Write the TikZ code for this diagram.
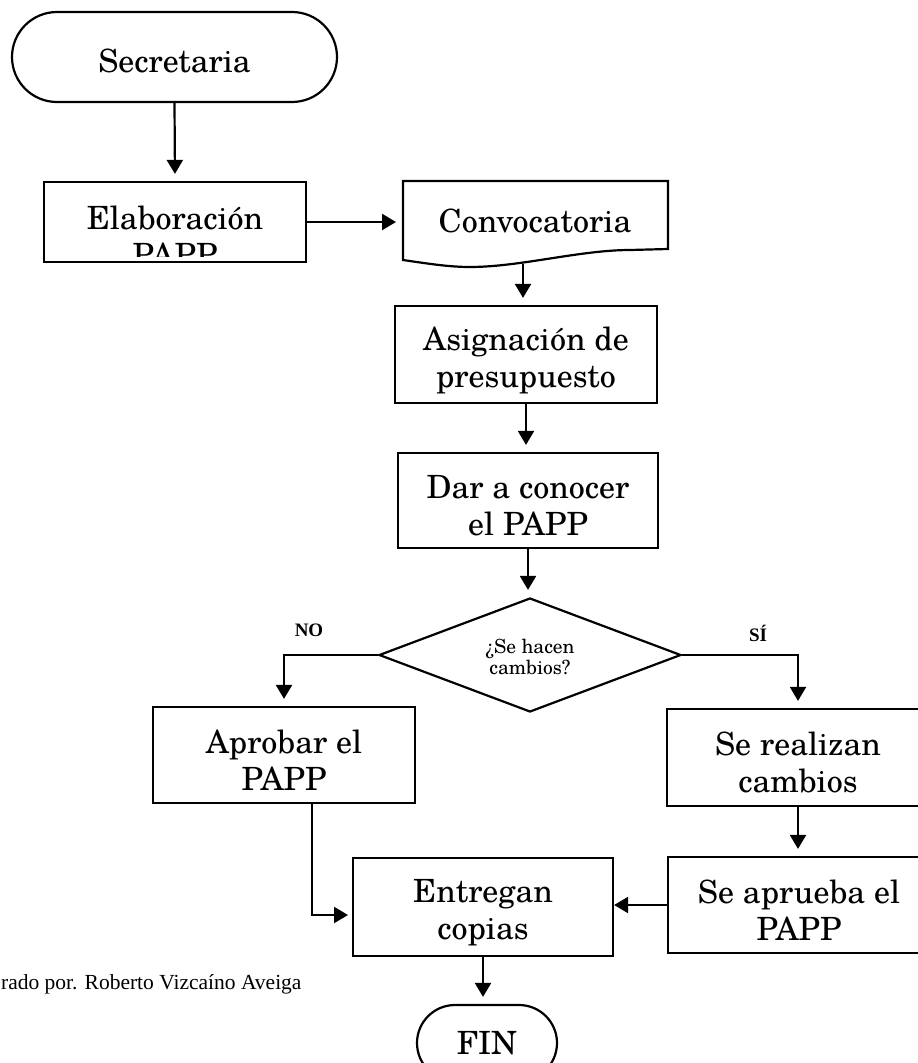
\documentclass[tikz,border=0pt]{standalone}
\usepackage{fontspec}
\setmainfont{TeX Gyre Schola}
\newfontfamily\timesf{Liberation Serif}
\usetikzlibrary{arrows.meta,shapes.geometric}
\begin{document}
\begin{tikzpicture}[x=1pt,y=-1pt,line width=2.2pt,
  bigtext/.style={font=\fontsize{32}{37}\selectfont},
  box/.style={draw, rectangle, minimum width=262pt, minimum height=97pt, inner sep=0pt},
  txt/.style={align=center, inner sep=0pt, bigtext},
  term/.style={draw, rectangle, inner sep=0pt, bigtext},
  arr/.style={-{Triangle[length=14pt,width=16pt]}, line width=2.2pt, shorten >=7pt},
  lbl/.style={font=\timesf\bfseries\fontsize{19}{21}\selectfont, inner sep=0pt}]
\useasboundingbox (0,0) rectangle (918,1063);
\clip (0,0) rectangle (918,1063);

% Start terminal
\node[term, rounded corners=45pt, minimum width=325pt, minimum height=90pt] (sec) at (174.5,57) {};
\node[txt] (secT) at (174.5,61) {Secretaria};

% Elaboracion box (text clipped)
\begin{scope}
  \clip (44,182) rectangle (306,256);
  \node[txt] (elabT) at (175,236) {Elaboración\\PAPP};
\end{scope}
\node[draw, rectangle, minimum width=262pt, minimum height=80pt, inner sep=0pt] (elab) at (175,222) {};

% Convocatoria document
\draw (403,181) -- (668,181) -- (668,249) -- (630,250)
  .. controls (580,250) and (520,267) .. (470,267)
  .. controls (450,267) and (430,264) .. (403,260) -- cycle;
\node[txt] (conv) at (535,221) {Convocatoria};
\coordinate (convW) at (403,222);
\coordinate (convS) at (523,264);

\node[box] (asig) at (526,354.5) {};
\node[txt] (asigT) at ([yshift=-6pt]asig.center) {Asignación de\\presupuesto};
\node[box, minimum width=260pt, minimum height=95pt] (dar) at (528,500.5) {};
\node[txt] (darT) at ([yshift=-5pt]dar.center) {Dar a conocer\\el PAPP};

\node[diamond, draw, minimum width=302pt, minimum height=114pt, inner sep=0pt, aspect=2.65] (dec) at (530,655) {};
\node[align=center, inner sep=0pt, font=\fontsize{19.5}{21}\selectfont] (decT) at (530,657) {¿Se hacen\\cambios?};

\node[lbl] (no) at (309,630) {NO};
\node[lbl] (si) at (758,633) {SÍ};

\node[box, minimum height=96pt] (aprob) at (284,755) {};
\node[txt] (aprobT) at ([yshift=-5pt]aprob.center) {Aprobar el\\PAPP};
\node[box] (real) at (798,757.5) {};
\node[txt] (realT) at ([yshift=-5pt]real.center) {Se realizan\\cambios};
\node[box, minimum height=96pt] (apr) at (799,905) {};
\node[txt] (aprT) at ([yshift=-5pt]apr.center) {Se aprueba el\\PAPP};
\node[box, minimum width=260pt, minimum height=98pt] (entr) at (483,907) {};
\node[txt] (entrT) at ([yshift=-6pt]entr.center) {Entregan\\copias};

\node[term, rounded corners=38pt, minimum width=140pt, minimum height=76pt] (fin) at (487,1043) {FIN};

\node[anchor=west, inner sep=0pt, font=\timesf\fontsize{21.5}{24}\selectfont] (foot) at (0,984) {rado por. Roberto Vizcaíno Aveiga};

\coordinate (aprobOut) at (312,803);
\coordinate (entrIn) at (353,915);

% connectors
\draw[arr] (sec.south) -- (elab.north);
\draw[arr] (elab.east) -- (convW);
\draw[arr] (convS) -- (convS |- asig.north);
\draw[arr] (asig.south) -- (asig.south |- dar.north);
\draw[arr] (dar.south) -- (dar.south |- dec.north);
\draw[arr] (dec.west) -| (aprob.north);
\draw[arr] (dec.east) -| (real.north);
\draw[arr] (real.south) -- (real.south |- apr.north);
\draw[arr, shorten >=0pt] (apr.west) -- (apr.west -| entr.east);
\draw[arr, shorten >=5pt] (aprobOut) |- (entrIn);
\draw[arr] (entr.south) -- (entr.south |- fin.north);
\end{tikzpicture}
\end{document}
